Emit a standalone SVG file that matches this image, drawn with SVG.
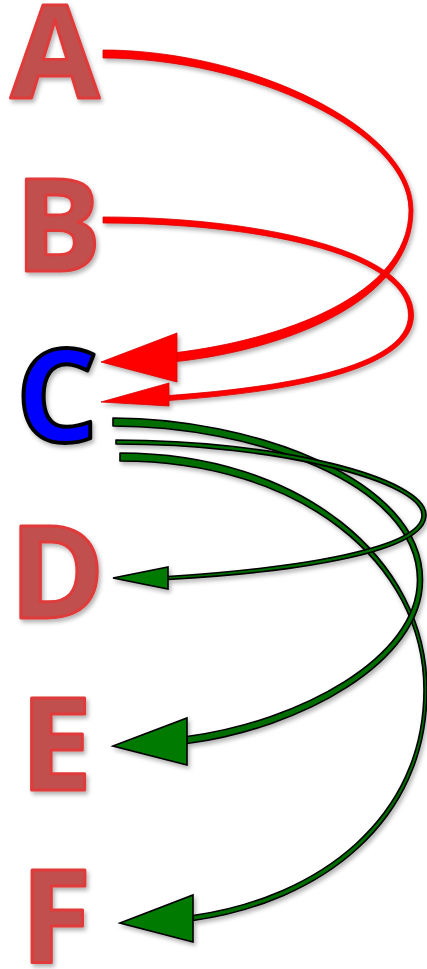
<svg xmlns="http://www.w3.org/2000/svg" width="427" height="969" viewBox="0 0 427 969">
<defs>
<filter id="sh" x="-20%" y="-20%" width="140%" height="140%">
<feDropShadow dx="2" dy="3" stdDeviation="2" flood-color="#000" flood-opacity="0.3"/>
</filter>
<style>
.lt{font-family:"Open Sans","Liberation Sans",sans-serif;font-weight:700;font-size:129px;text-anchor:middle;fill:#c0504d;stroke:#e03a3a;stroke-width:3;stroke-linejoin:round;filter:url(#sh)}
.lc{fill:#0000ff;stroke:#000;stroke-width:4}
.red{fill:#ff0000;stroke:#d80000;stroke-width:0.8;stroke-linejoin:round}
.grn{fill:#006d00;stroke:#000;stroke-width:1.6;stroke-linejoin:round}
.head{fill:#007a00;stroke:#000;stroke-width:1.6;stroke-linejoin:miter}
</style>
</defs>
<g id="A"><text class="lt" x="55" y="98">A</text></g>
<g id="B"><text class="lt" x="58" y="271">B</text></g>
<g id="C"><text class="lt lc" x="57" y="442">C</text></g>
<g id="D"><text class="lt" x="57" y="618">D</text></g>
<g id="E"><text class="lt" x="56" y="790">E</text></g>
<g id="F"><text class="lt" x="56" y="963">F</text></g>
<g id="connectors" filter="url(#sh)">
<g id="A-C">
<path class="red" d="M103,50 C250,50 413,128 413,210 C413,303 282,350 177,361.5 L177,352.5 C278,340 409,297 409,210 C409,132 250,58 103,58 Z"/>
<polygon class="red" points="101,362 177,333 177,382"/>
</g>
<g id="B-C">
<path class="red" d="M103,217 C250,217 413.5,248 413.5,315 C413.5,372 281,392.5 169,400.5 L169,395.5 C279,387.5 408.5,368 408.5,315 C408.5,252 250,223 103,223 Z"/>
<polygon class="red" points="101,402 169,383 169,406"/>
</g>
<g id="C-F">
<path class="grn" d="M120,453 C300,453 427,558 427,690 C427,822 321,902.5 193,920.5 L193,915.5 C319,897.5 424,818 424,690 C424,562 300,461 120,461 Z"/>
<polygon class="head" points="120,923 193,895 193,942"/>
</g>
<g id="C-E">
<path class="grn" d="M113,418 C250,418 422.5,478 422.5,580 C422.5,662 301,728.5 187,743.5 L187,736.5 C299,721.5 417.5,658 417.5,580 C417.5,482 250,426 113,426 Z"/>
<polygon class="head" points="113,746 187,718 187,765"/>
</g>
<g id="C-D">
<path class="grn" d="M116,440 C280,440 426,478 426,515 C426,552 301,572 168,579.5 L168,576.5 C299,568 422,548 422,515 C422,482 280,444 116,444 Z"/>
<polygon class="head" points="113,578 168,567 168,589"/>
</g>
</g>
</svg>
